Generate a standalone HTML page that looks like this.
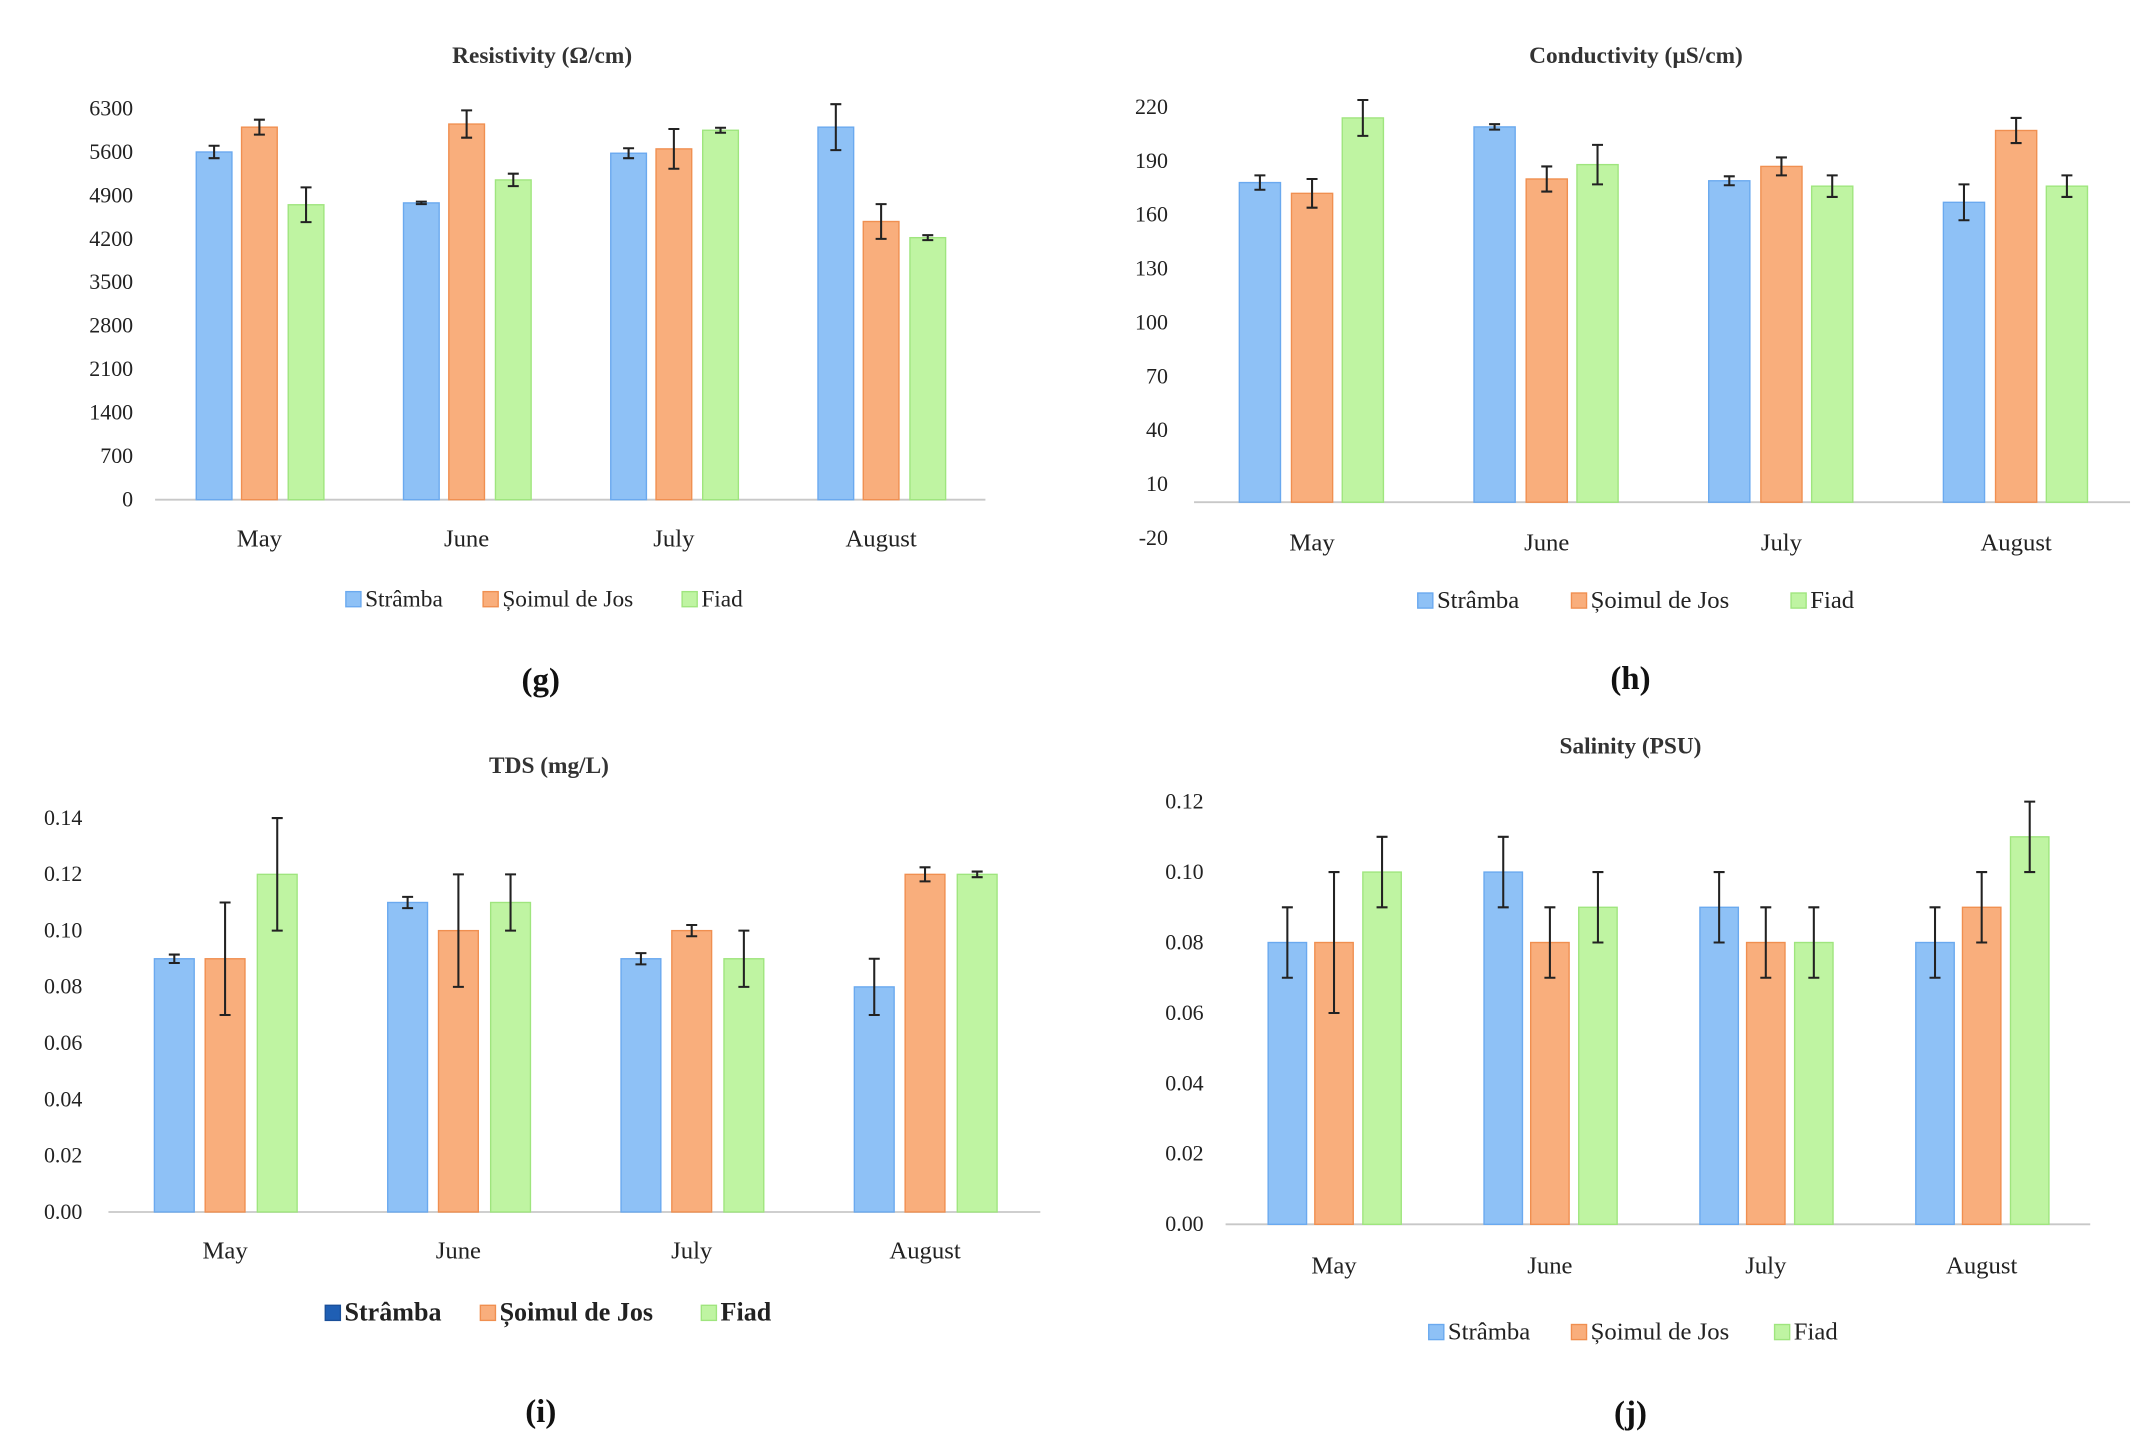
<!DOCTYPE html>
<html><head><meta charset="utf-8">
<style>
html,body{margin:0;padding:0;background:#fff;}
svg{display:block;font-family:"Liberation Serif",serif;}
</style></head>
<body>
<svg id="root" width="2152" height="1455" viewBox="0 0 1568 1060" xmlns="http://www.w3.org/2000/svg"></svg>
<script>
const months = ["May","June","July","August"];
const seriesNames = ["Strâmba","Șoimul de Jos","Fiad"];
// (g) Resistivity
const resTicks = [0,700,1400,2100,2800,3500,4200,4900,5600,6300];
const resStramba = [5600,4780,5580,6000];
const resSoimul = [6000,6050,5650,4480];
const resFiad = [4750,5150,5950,4220];
const resStrambaErr = [100,20,80,370];
const resSoimulErr = [120,220,320,280];
const resFiadErr = [280,100,40,40];
// (h) Conductivity
const conTicks = [-20,10,40,70,100,130,160,190,220];
const conStramba = [178,209,179,167];
const conSoimul = [172,180,187,207];
const conFiad = [214,188,176,176];
const conStrambaErr = [4,1.5,2.5,10];
const conSoimulErr = [8,7,5,7];
const conFiadErr = [10,11,6,6];
// (i) TDS
const tdsTicks = [0,0.02,0.04,0.06,0.08,0.10,0.12,0.14];
const tdsStramba = [0.09,0.11,0.09,0.08];
const tdsSoimul = [0.09,0.10,0.10,0.12];
const tdsFiad = [0.12,0.11,0.09,0.12];
const tdsStrambaErr = [0.0015,0.002,0.002,0.01];
const tdsSoimulErr = [0.02,0.02,0.002,0.0025];
const tdsFiadErr = [0.02,0.01,0.01,0.001];
// (j) Salinity
const salTicks = [0,0.02,0.04,0.06,0.08,0.10,0.12];
const salStramba = [0.08,0.10,0.09,0.08];
const salSoimul = [0.08,0.08,0.08,0.09];
const salFiad = [0.10,0.09,0.08,0.11];
const salStrambaErr = [0.01,0.01,0.01,0.01];
const salSoimulErr = [0.02,0.01,0.01,0.01];
const salFiadErr = [0.01,0.01,0.01,0.01];

const NS="http://www.w3.org/2000/svg";
const root=document.getElementById('root');
const fills=["#8ec1f6","#f9ae7c","#bff4a2"];
const strokes=["#6aa9ef","#f08f50","#9fe57e"];
function mk(tag,attrs,parent){const e=document.createElementNS(NS,tag);for(const k in attrs)e.setAttribute(k,attrs[k]);(parent||root).appendChild(e);return e;}

function chart(cfg){
  const g=mk('g',{});
  
  
  const y=v=>cfg.y0-(v-cfg.vmin)/(cfg.vmax-cfg.vmin)*(cfg.y0-cfg.y1);
  const t=mk('text',{x:cfg.titleX,y:cfg.titleY,'text-anchor':'middle','font-size':17,'font-weight':'bold',fill:'#333'},g);
  t.textContent=cfg.title;
  
  
  cfg.ticks.forEach(v=>{
    const tl=mk('text',{x:cfg.labelX,y:y(v)+5,'text-anchor':'end','font-size':16,fill:'#222'},g);
    tl.textContent=cfg.fmt(v);
    
    
  });
  const ax=mk('line',{x1:cfg.ax0,x2:cfg.ax1,y1:y(cfg.base),y2:y(cfg.base),stroke:'#c8c8c8','stroke-width':1.3},g);
  
  
  months.forEach((m,i)=>{
    const cx=cfg.c0+i*cfg.step;
    cfg.series.forEach((s,j)=>{
      const bx=cx+cfg.offs[j]-cfg.bw/2;
      const top=y(s[i]), b=y(cfg.base);
      const r=mk('rect',{x:bx,y:top,width:cfg.bw,height:b-top,fill:fills[j],stroke:strokes[j],'stroke-width':1},g);
      
      
      const e=cfg.errs[j][i];
      const ex=cx+cfg.offs[j];
      const el=mk('path',{d:`M${ex},${y(s[i]+e)}V${y(s[i]-e)}M${ex-4},${y(s[i]+e)}H${ex+4}M${ex-4},${y(s[i]-e)}H${ex+4}`,stroke:'#222','stroke-width':1.5,fill:'none'},g);
      
      
    });
    const ml=mk('text',{x:cx,y:cfg.monthY,'text-anchor':'middle','font-size':cfg.lfs,fill:'#222'},g);
    ml.textContent=m;
    
    
  });
  seriesNames.forEach((n,j)=>{
    const lx=cfg.legX[j];
    const sq=mk('rect',{x:lx,y:cfg.legY-11,width:11,height:11,fill:(j==0&&cfg.darkFirst)?'#1f5fb4':fills[j],stroke:(j==0&&cfg.darkFirst)?'#1a4f99':strokes[j]},g);
    
    
    const lt=mk('text',{x:lx+14,y:cfg.legY,'font-size':cfg.legFs,fill:'#222','font-weight':cfg.legBold?'bold':'normal'},g);
    lt.textContent=n;
    
    
  });
  const pl=mk('text',{x:cfg.panelX,y:cfg.panelY,'text-anchor':'middle','font-size':24,'font-weight':'bold',fill:'#111'},g);
  pl.textContent=cfg.panel;
  
  
}
const fInt=v=>String(v), f2=v=>v.toFixed(2);
chart({name:'resistivity-chart',title:'Resistivity (Ω/cm)',titleX:395,titleY:46,ticks:resTicks,fmt:fInt,vmin:0,vmax:6300,y0:364,y1:79,base:0,labelX:97,ax0:113,ax1:718,c0:189,step:151,offs:[-33,0,34],bw:26,series:[resStramba,resSoimul,resFiad],errs:[resStrambaErr,resSoimulErr,resFiadErr],monthY:398,lfs:18,legX:[252,352,497],legY:442,legFs:17,panel:'(g)',panelX:394,panelY:503});
chart({name:'conductivity-chart',title:'Conductivity (µS/cm)',titleX:1192,titleY:46,ticks:conTicks,fmt:fInt,vmin:-20,vmax:220,y0:392,y1:78,base:0,labelX:851,ax0:870,ax1:1552,c0:956,step:171,offs:[-38,0,37],bw:30,series:[conStramba,conSoimul,conFiad],errs:[conStrambaErr,conSoimulErr,conFiadErr],monthY:401,lfs:18,legX:[1033,1145,1305],legY:443,legFs:18,panel:'(h)',panelX:1188,panelY:502});
chart({name:'tds-chart',title:'TDS (mg/L)',titleX:400,titleY:563,ticks:tdsTicks,fmt:f2,vmin:0,vmax:0.14,y0:883,y1:596,base:0,labelX:60,ax0:79,ax1:758,c0:164,step:170,offs:[-37,0,38],bw:29,series:[tdsStramba,tdsSoimul,tdsFiad],errs:[tdsStrambaErr,tdsSoimulErr,tdsFiadErr],monthY:917,lfs:18,legX:[237,350,511],legY:962,legFs:19,legBold:true,darkFirst:true,panel:'(i)',panelX:394,panelY:1036});
chart({name:'salinity-chart',title:'Salinity (PSU)',titleX:1188,titleY:549,ticks:salTicks,fmt:f2,vmin:0,vmax:0.12,y0:892,y1:584,base:0,labelX:877,ax0:893,ax1:1523,c0:972,step:157.3,offs:[-34,0,35],bw:28,series:[salStramba,salSoimul,salFiad],errs:[salStrambaErr,salSoimulErr,salFiadErr],monthY:928,lfs:18,legX:[1041,1145,1293],legY:976,legFs:18,panel:'(j)',panelX:1188,panelY:1037});
</script>
</body></html>
